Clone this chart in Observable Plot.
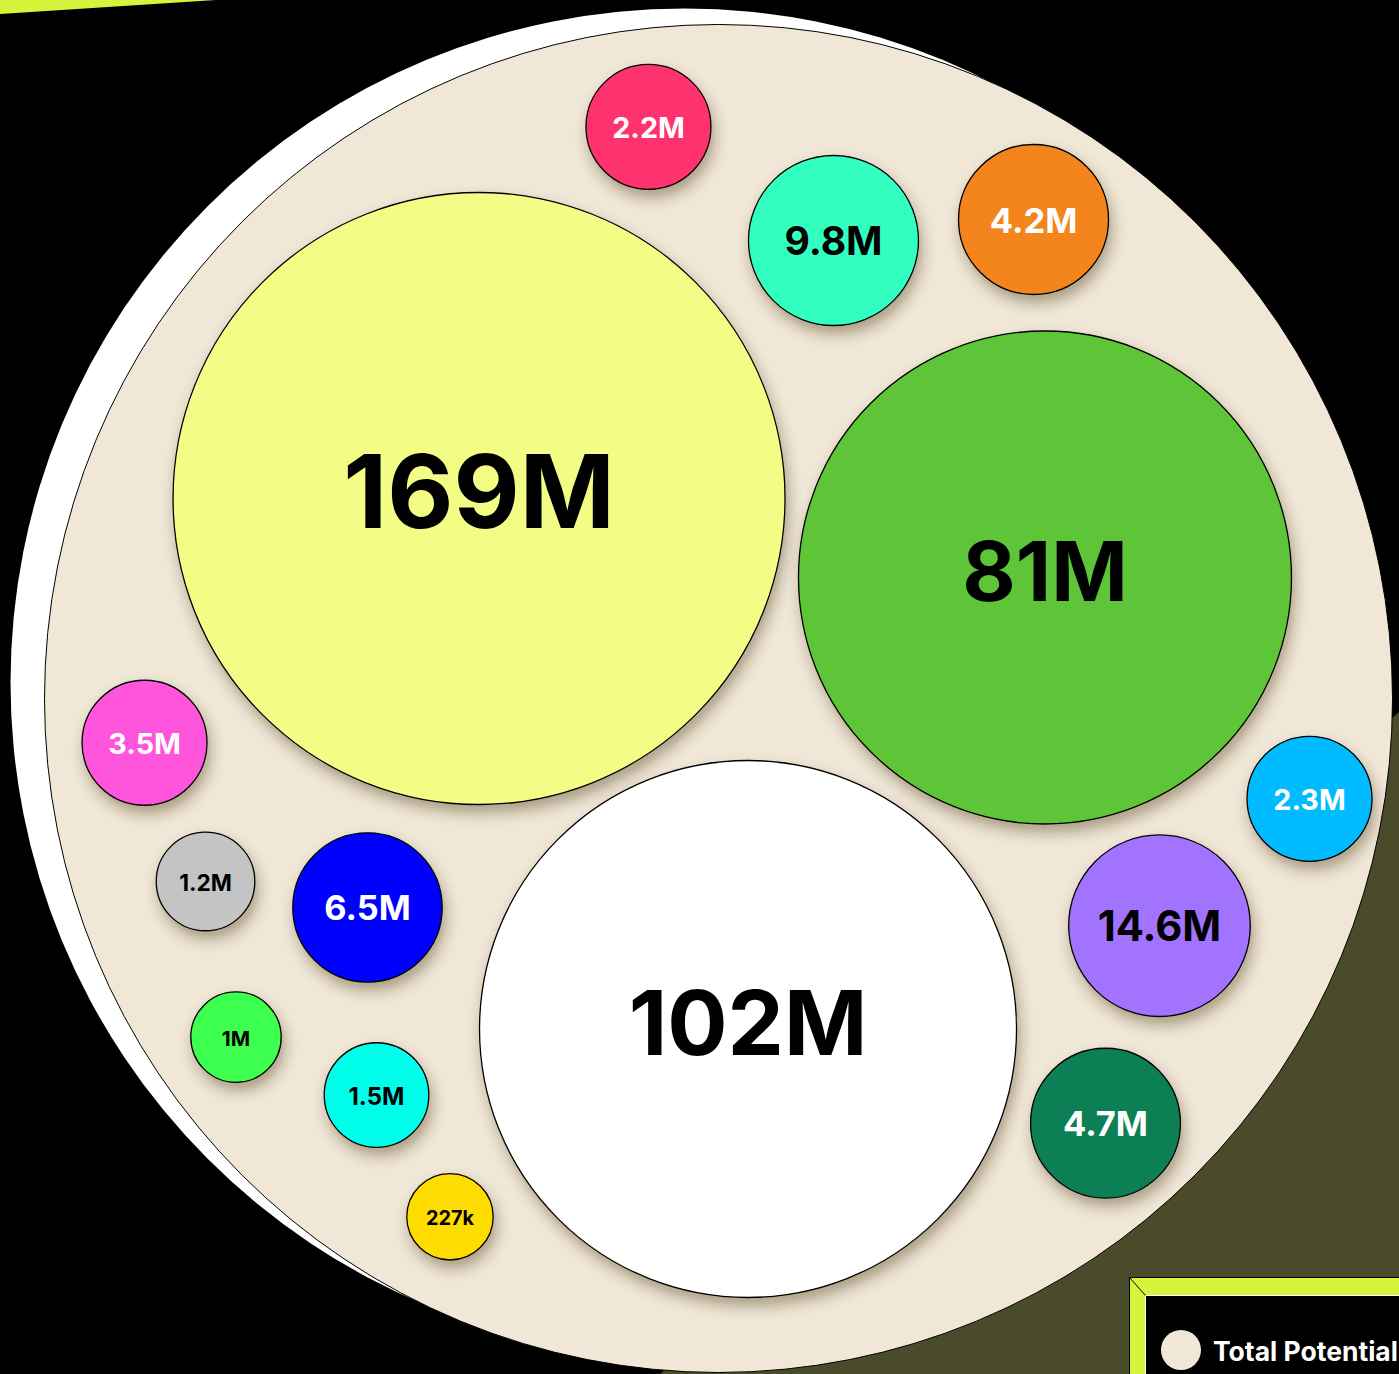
<!DOCTYPE html>
<html>
<head>
<meta charset="utf-8">
<script src="https://cdn.jsdelivr.net/npm/d3@7"></script>
<script src="https://cdn.jsdelivr.net/npm/@observablehq/plot@0.6"></script>
<style>
  html, body { margin: 0; padding: 0; background: #000; width: 1399px; height: 1374px; overflow: hidden; }
  #wrap { position: relative; width: 1399px; height: 1374px; overflow: hidden; background: #000; }
  #olive { position: absolute; left: 0; top: 0; width: 1399px; height: 1374px; background: #4a4b2a;
           clip-path: polygon(1399px 712px, 1399px 1374px, 660px 1374px); }
  #band { position: absolute; left: 0; top: 0; width: 216px; height: 15px; background: #d4f53c;
          clip-path: polygon(0 0, 216px 0, 0 14px); }
  #chart { position: absolute; left: 0; top: 0; }
  #legend { position: absolute; left: 1129px; top: 1277px; }
</style>
</head>
<body>
<div id="wrap">
  <div id="olive"></div>
  <div id="band"></div>
  <div id="chart"></div>
  <svg id="legend" width="270" height="97" xmlns="http://www.w3.org/2000/svg">
    <rect x="0.5" y="0.5" width="320" height="140" fill="#d4f53c" stroke="#000" stroke-width="1"></rect>
    <rect x="16.5" y="18.5" width="320" height="140" fill="#000" stroke="#fff" stroke-width="1"></rect>
    <line x1="0.5" y1="0.5" x2="16.5" y2="18.5" stroke="#000" stroke-width="1"></line>
    <circle cx="52" cy="73" r="20" fill="#f0e7d6"></circle>
    <text x="84" y="84" fill="#fff" font-family="Inter" font-weight="700" font-size="26.5">Total Potential</text>
  </svg>
</div>
<script>
// ---- data ----
const labels = ["169M", "81M", "102M", "2.2M", "9.8M", "4.2M", "3.5M", "1.2M", "6.5M", "1M", "1.5M", "227k", "2.3M", "14.6M", "4.7M"];
const values = [169, 81, 102, 2.2, 9.8, 4.2, 3.5, 1.2, 6.5, 1, 1.5, 0.227, 2.3, 14.6, 4.7]; // millions
// packed layout (units: percent of the enclosing circle's radius, origin at its centre)
const layoutX = [-35.53, 48.44, 4.38, -10.39, 17.06, 46.74, -85.16, -76.11, -52.08, -71.59, -50.74, -39.84, 87.69, 65.43, 57.42];
const layoutY = [29.67, 17.95, -49.04, 84.82, 67.95, 71.07, -6.57, -27.15, -31.01, -50.25, -58.84, -76.90, -14.88, -33.71, -63.01];
const colors = ["#f3fd86", "#5fc538", "#ffffff", "#ff336f", "#33ffbf", "#f4841f", "#ff55dd", "#c4c4c4", "#0000ff", "#3dff4d", "#00ffea", "#ffdc00", "#00bbff", "#a173ff", "#0b7f55"];
const lightLabels = ["2.2M", "4.2M", "3.5M", "6.5M", "2.3M", "4.7M"];

const total = d3.sum(values);
const rDomain = [0.227, 1, 1.2, 1.5, 2.2, 3.5, 4.2, 6.5, 9.8, 14.6, 81, 102, 169, total];
const rRange  = [43.2, 45.2, 49.3, 52.3, 62.5, 62.5, 75, 74.7, 85, 90.8, 246.5, 268.5, 306, 674];

const data = labels.map((label, i) => ({label, value: values[i], x: layoutX[i], y: layoutY[i]}));
const totalData = [{label: "Total Potential", value: total, x: 0, y: 0}];

const rScale = d3.scaleLinear(rDomain, rRange);
const isBig = d => rScale(d.value) >= 200;
const fontFor = d => { const r = rScale(d.value); return r >= 200 ? r / 3 : r * 0.46; };

const textOpts = {x: "x", y: "y", text: "label", fontSize: fontFor, fontWeight: 700, fontFamily: "Inter"};

const svg = Plot.plot({
  width: 1399,
  height: 1374,
  margin: 0,
  style: {background: "transparent", overflow: "visible"},
  x: {domain: [-106.53, 101.04], axis: null},
  y: {domain: [-100.30, 103.56], axis: null},
  r: {type: "linear", domain: rDomain, range: rRange},
  color: {domain: labels, range: colors},
  marks: [
    Plot.dot(totalData, {x: "x", y: "y", r: "value", fill: "#ffffff", dx: -34, dy: -16}),
    Plot.dot(totalData, {x: "x", y: "y", r: "value", fill: "#f0e7d6", stroke: "#000", strokeWidth: 1}),
    Plot.dot(data, {x: "x", y: "y", r: "value", fill: "label", stroke: "#000", strokeWidth: 1.3}),
    Plot.text(data.filter(d => isBig(d)), {...textOpts, fill: "#000", dy: -3}),
    Plot.text(data.filter(d => !isBig(d) && !lightLabels.includes(d.label)), {...textOpts, fill: "#000", dy: 2}),
    Plot.text(data.filter(d => lightLabels.includes(d.label)), {...textOpts, fill: "#fff", dy: 2})
  ]
});

const ns = "http://www.w3.org/2000/svg";
const defs = document.createElementNS(ns, "defs");
defs.innerHTML = '<filter id="bshadow" x="-40%" y="-40%" width="180%" height="180%"><feDropShadow dx="3" dy="8" stdDeviation="7" flood-color="#3a2a10" flood-opacity="0.38"/></filter>';
svg.prepend(defs);
const dotGroups = svg.querySelectorAll('g[aria-label="dot"]');
if (dotGroups[2]) dotGroups[2].querySelectorAll("circle").forEach(c => c.setAttribute("filter", "url(#bshadow)"));

document.getElementById("chart").appendChild(svg);
</script>
</body>
</html>
